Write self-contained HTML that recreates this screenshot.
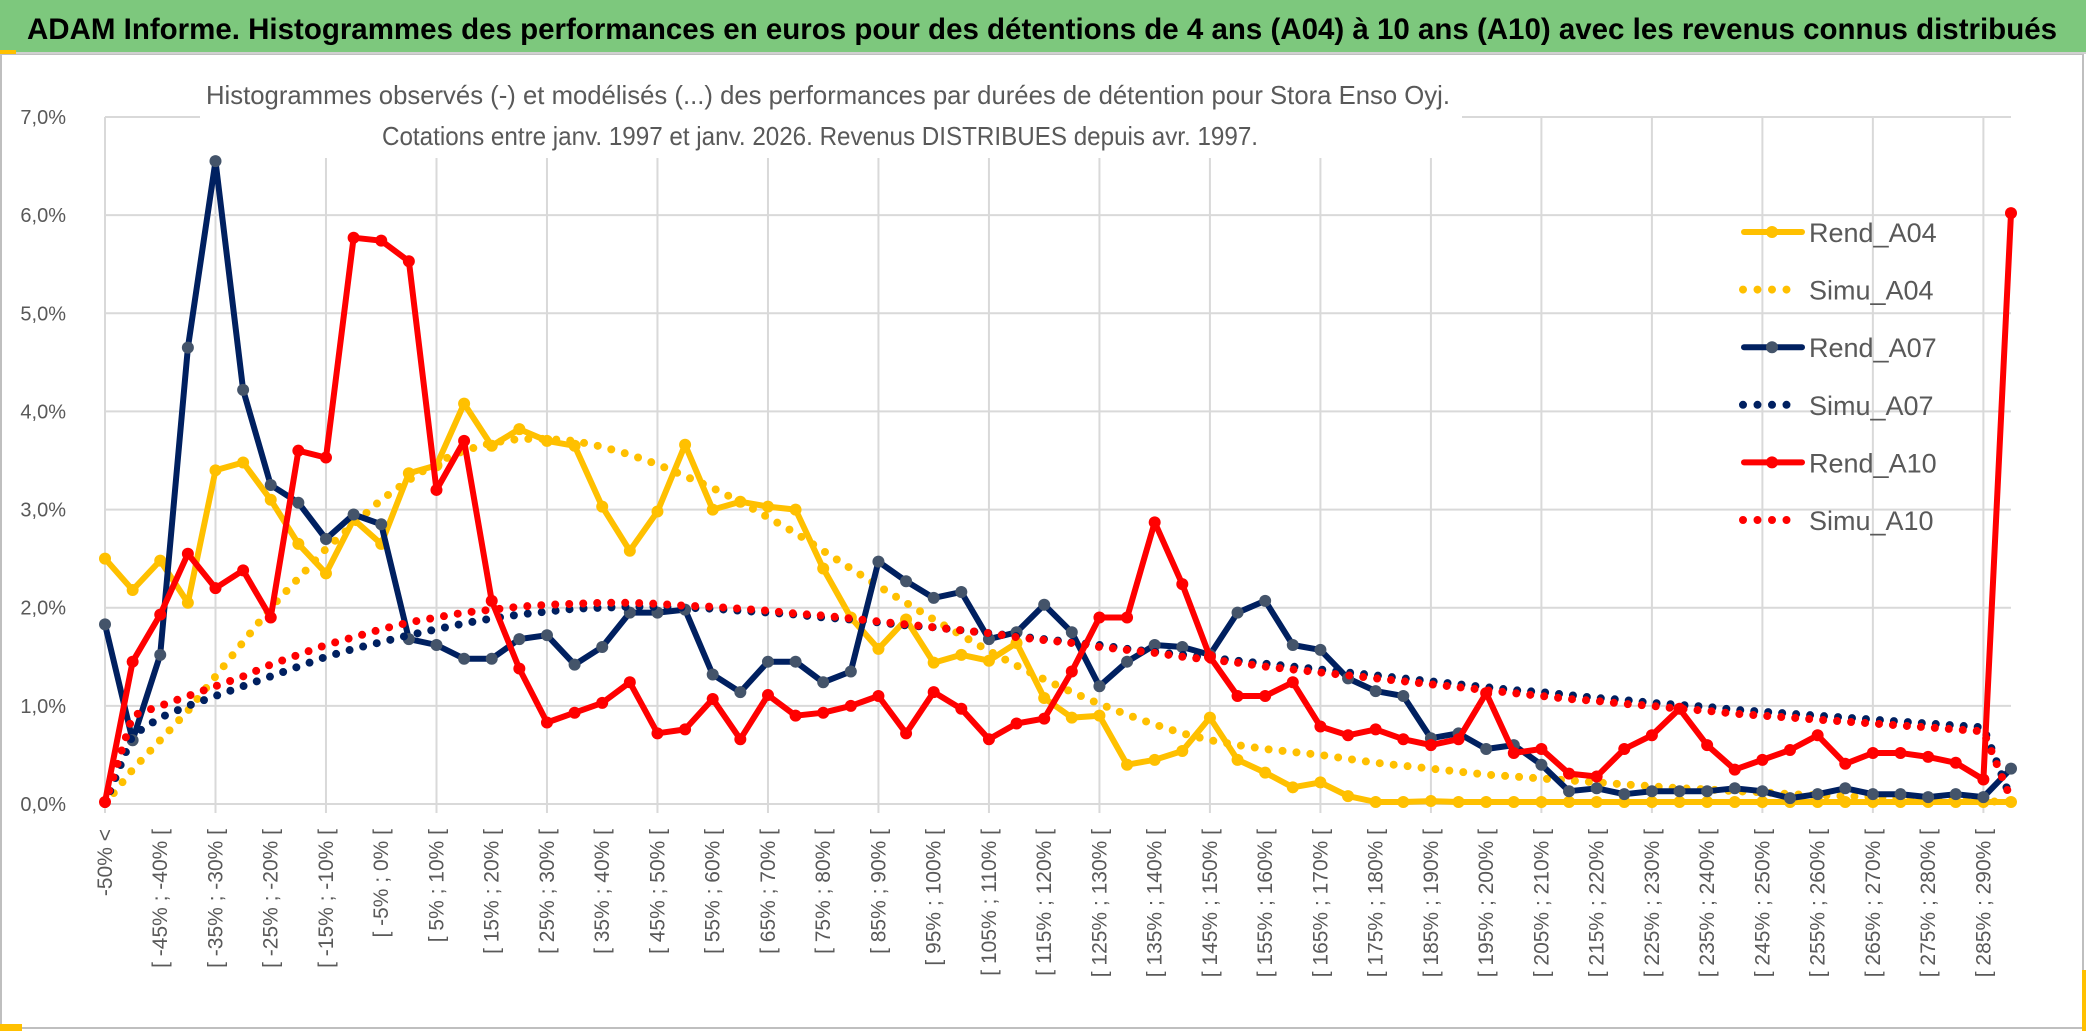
<!DOCTYPE html>
<html><head><meta charset="utf-8"><style>
html,body{margin:0;padding:0;background:#fff;}
svg{display:block;font-family:"Liberation Sans",sans-serif;}
</style></head><body>
<svg id="chart" width="2086" height="1031" viewBox="0 0 2086 1031" xmlns="http://www.w3.org/2000/svg">
<rect x="0" y="0" width="2086" height="1031" fill="#ffffff"/>
<rect x="1" y="54" width="2082" height="974" fill="none" stroke="#bfbfbf" stroke-width="2"/>
<rect x="0" y="0" width="2086" height="52" fill="#7dc87d"/>
<line x1="0" y1="53" x2="2086" y2="53" stroke="#d0d0d0" stroke-width="2"/>
<text x="27" y="39" font-size="30" font-weight="bold" fill="#000" textLength="2030" lengthAdjust="spacingAndGlyphs">ADAM Informe. Histogrammes des performances en euros pour des détentions de 4 ans (A04) à 10 ans (A10) avec les revenus connus distribués</text>
<rect x="0" y="50" width="16" height="4" fill="#ffc000"/>
<rect x="0" y="1024" width="22" height="7" fill="#ffc000"/>
<rect x="2082" y="970" width="4" height="61" fill="#ffc000"/>
<g id="grid"></g>
<rect x="200" y="62" width="1262" height="96" fill="#ffffff"/>
<text x="206" y="104" font-size="26" fill="#595959" textLength="1244" lengthAdjust="spacingAndGlyphs">Histogrammes observés (-) et modélisés (...) des performances par durées de détention pour Stora Enso Oyj.</text>
<text x="382" y="145" font-size="26" fill="#595959" textLength="876" lengthAdjust="spacingAndGlyphs">Cotations entre janv. 1997 et janv. 2026. Revenus DISTRIBUES depuis avr. 1997.</text>
<g id="yaxis"></g>
<g id="xaxis"></g>
<g id="series"></g>
<g id="legend"></g>
</svg>
<script>
const rendA04 = [2.5,2.18,2.48,2.05,3.4,3.48,3.1,2.65,2.35,2.9,2.65,3.37,3.45,4.08,3.65,3.82,3.7,3.65,3.03,2.58,2.98,3.66,3.0,3.08,3.03,3.0,2.4,1.9,1.58,1.88,1.44,1.52,1.46,1.64,1.08,0.88,0.9,0.4,0.45,0.54,0.88,0.45,0.32,0.17,0.22,0.08,0.02,0.02,0.03,0.02,0.02,0.02,0.02,0.02,0.02,0.02,0.02,0.02,0.02,0.02,0.02,0.02,0.02,0.02,0.02,0.02,0.02,0.02,0.02,0.02];
const simuA04 = [0.0,0.35,0.65,0.95,1.3,1.65,2.0,2.3,2.6,2.85,3.1,3.3,3.48,3.6,3.68,3.72,3.72,3.7,3.64,3.56,3.46,3.34,3.22,3.08,2.92,2.76,2.58,2.4,2.22,2.05,1.88,1.72,1.56,1.41,1.27,1.14,1.02,0.91,0.81,0.72,0.65,0.6,0.56,0.53,0.5,0.46,0.42,0.39,0.36,0.33,0.3,0.28,0.26,0.24,0.22,0.2,0.18,0.16,0.15,0.13,0.12,0.1,0.09,0.08,0.07,0.06,0.05,0.04,0.03,0.02];
const rendA07 = [1.83,0.65,1.52,4.65,6.55,4.22,3.25,3.07,2.7,2.95,2.85,1.68,1.62,1.48,1.48,1.68,1.72,1.42,1.6,1.95,1.95,1.98,1.32,1.14,1.45,1.45,1.24,1.35,2.47,2.27,2.1,2.16,1.68,1.75,2.03,1.75,1.2,1.45,1.62,1.6,1.52,1.95,2.07,1.62,1.57,1.28,1.15,1.1,0.67,0.72,0.56,0.6,0.4,0.13,0.16,0.1,0.13,0.13,0.13,0.16,0.13,0.06,0.1,0.16,0.1,0.1,0.07,0.1,0.07,0.36];
const simuA07 = [0.0,0.7,0.88,1.0,1.1,1.2,1.3,1.4,1.5,1.58,1.65,1.72,1.78,1.84,1.89,1.93,1.96,1.99,2.0,2.01,2.01,2.0,1.99,1.97,1.95,1.93,1.9,1.88,1.85,1.82,1.8,1.77,1.74,1.71,1.68,1.65,1.62,1.58,1.55,1.52,1.49,1.46,1.43,1.4,1.37,1.34,1.31,1.28,1.25,1.22,1.19,1.16,1.14,1.11,1.08,1.06,1.03,1.01,0.99,0.96,0.94,0.92,0.9,0.88,0.86,0.84,0.82,0.8,0.78,0.05];
const rendA10 = [0.02,1.45,1.93,2.55,2.2,2.38,1.9,3.6,3.53,5.77,5.74,5.53,3.2,3.7,2.07,1.38,0.83,0.93,1.03,1.24,0.72,0.76,1.07,0.66,1.11,0.9,0.93,1.0,1.1,0.72,1.14,0.97,0.66,0.82,0.87,1.35,1.9,1.9,2.87,2.24,1.5,1.1,1.1,1.24,0.79,0.7,0.76,0.66,0.6,0.66,1.13,0.52,0.56,0.31,0.28,0.56,0.7,0.97,0.6,0.35,0.45,0.55,0.7,0.41,0.52,0.52,0.48,0.42,0.25,6.02];
const simuA10 = [0.0,0.9,1.0,1.1,1.2,1.3,1.42,1.52,1.62,1.7,1.78,1.85,1.9,1.95,1.98,2.01,2.03,2.04,2.05,2.05,2.04,2.02,2.01,1.99,1.97,1.94,1.92,1.89,1.86,1.83,1.8,1.77,1.74,1.7,1.67,1.64,1.6,1.57,1.54,1.5,1.47,1.44,1.4,1.37,1.34,1.31,1.28,1.25,1.22,1.19,1.16,1.13,1.1,1.07,1.05,1.02,1.0,0.97,0.95,0.92,0.9,0.88,0.86,0.84,0.82,0.8,0.78,0.76,0.74,0.05];
const yTicks = [0,1,2,3,4,5,6,7];
const yTickLabels = ["0,0%","1,0%","2,0%","3,0%","4,0%","5,0%","6,0%","7,0%"];
const categories = ["-50% <"];
for (let b = -50; b < 290; b += 5) categories.push("[ " + b + "% ; " + (b + 5) + "% [");
categories.push("> 290%");

const NS = "http://www.w3.org/2000/svg";
const X0 = 105, STEP = (2011 - 105) / 69, Y0 = 804, YPER = (804 - 117) / 7;
function xs(i) { return X0 + i * STEP; }
function ys(v) { return Y0 - v * YPER; }
function mk(tag, attrs, parent) {
  const e = document.createElementNS(NS, tag);
  for (const k in attrs) e.setAttribute(k, attrs[k]);
  parent.appendChild(e);
  return e;
}
const grid = document.getElementById('grid');
yTicks.forEach(function (t) {
  const l = mk('line', {x1: X0, x2: xs(69), y1: ys(t), y2: ys(t), stroke: '#d9d9d9', 'stroke-width': 2}, grid);
  
  
});
for (let i = 0; i < categories.length; i += 4) {
  const l = mk('line', {x1: xs(i), x2: xs(i), y1: ys(7), y2: Y0 + 9, stroke: '#d9d9d9', 'stroke-width': 2}, grid);
  
  
}
const yaxis = document.getElementById('yaxis');
yTicks.forEach(function (t, k) {
  const tx = mk('text', {x: 66, y: ys(t) + 7, 'font-size': 20, fill: '#595959', 'text-anchor': 'end'}, yaxis);
  tx.textContent = yTickLabels[k];
  
  
});
const xaxis = document.getElementById('xaxis');
for (let i = 0; i < categories.length; i += 2) {
  const cx = xs(i) + 7, cy = 829;
  const tx = mk('text', {x: cx, y: cy, 'font-size': 21, fill: '#595959', 'text-anchor': 'end', transform: 'rotate(-90 ' + cx + ' ' + cy + ')'}, xaxis);
  tx.textContent = categories[i];
  
  
}
const series = document.getElementById('series');
function pts(arr) { return arr.map(function (v, i) { return xs(i).toFixed(1) + ',' + ys(v).toFixed(1); }).join(' '); }
function solid(arr, color, mcolor, name) {
  const g = mk('g', {}, series);
  
  
  const p = mk('polyline', {points: pts(arr), fill: 'none', stroke: color, 'stroke-width': 6, 'stroke-linejoin': 'round', 'stroke-linecap': 'round'}, g);
  
  
  arr.forEach(function (v, i) {
    const c = mk('circle', {cx: xs(i), cy: ys(v), r: 6, fill: mcolor}, g);
    
    
  });
}
function dotted(arr, color, name) {
  const p = mk('polyline', {points: pts(arr), fill: 'none', stroke: color, 'stroke-width': 8, 'stroke-linecap': 'round', 'stroke-dasharray': '0 14'}, series);
  
  
}
solid(rendA04, '#ffc000', '#ffc000', 'rend-a04');
dotted(simuA04, '#ffc000', 'simu-a04');
solid(rendA07, '#002060', '#44546a', 'rend-a07');
dotted(simuA07, '#002060', 'simu-a07');
solid(rendA10, '#ff0000', '#ff0000', 'rend-a10');
dotted(simuA10, '#ff0000', 'simu-a10');

const legend = document.getElementById('legend');
const legendItems = [
  ['Rend_A04', '#ffc000', '#ffc000', false],
  ['Simu_A04', '#ffc000', null, true],
  ['Rend_A07', '#002060', '#44546a', false],
  ['Simu_A07', '#002060', null, true],
  ['Rend_A10', '#ff0000', '#ff0000', false],
  ['Simu_A10', '#ff0000', null, true]
];
legendItems.forEach(function (it, k) {
  const y = 232 + k * 57.6;
  const g = mk('g', {}, legend);
  
  
  if (it[3]) {
    mk('line', {x1: 1743, x2: 1800, y1: y, y2: y, stroke: it[1], 'stroke-width': 8, 'stroke-linecap': 'round', 'stroke-dasharray': '0 14.5'}, g);
  } else {
    mk('line', {x1: 1744, x2: 1802, y1: y, y2: y, stroke: it[1], 'stroke-width': 6, 'stroke-linecap': 'round'}, g);
    mk('circle', {cx: 1772, cy: y, r: 6, fill: it[2]}, g);
  }
  const tx = mk('text', {x: 1809, y: y + 10, 'font-size': 27, fill: '#595959'}, g);
  tx.textContent = it[0];
  
  
});
</script>
</body></html>
